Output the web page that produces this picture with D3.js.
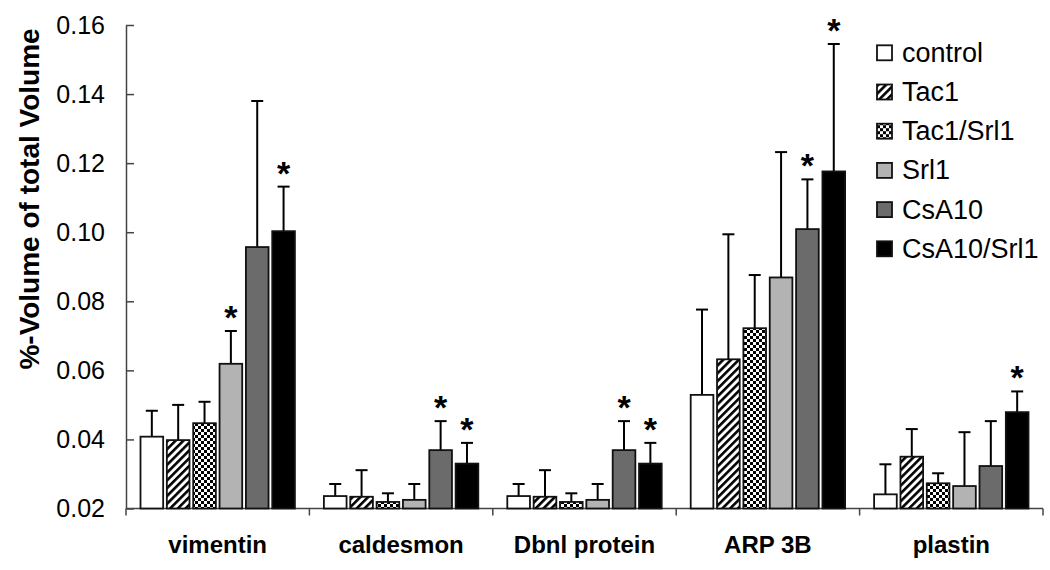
<!DOCTYPE html>
<html>
<head>
<meta charset="utf-8">
<script src="https://cdn.jsdelivr.net/npm/d3@7"></script>
<style>
  html, body { margin: 0; padding: 0; background: #fff; }
  svg { display: block; font-family: Arial, "Liberation Sans", sans-serif; }
</style>
</head>
<body>
<svg id="chart" width="1050" height="570"></svg>
<script>
const categories = ["vimentin", "caldesmon", "Dbnl protein", "ARP 3B", "plastin"];
const seriesNames = ["control", "Tac1", "Tac1/Srl1", "Srl1", "CsA10", "CsA10/Srl1"];

const controlVals   = [0.0408, 0.0236, 0.0236, 0.0529, 0.0241];
const tac1Vals      = [0.0398, 0.0234, 0.0234, 0.0632, 0.0350];
const tac1Srl1Vals  = [0.0447, 0.0219, 0.0219, 0.0722, 0.0273];
const srl1Vals      = [0.0619, 0.0225, 0.0225, 0.0869, 0.0265];
const csa10Vals     = [0.0957, 0.0369, 0.0369, 0.1009, 0.0323];
const csa10Srl1Vals = [0.1003, 0.0330, 0.0330, 0.1176, 0.0479];

const controlErr   = [0.0075, 0.0035, 0.0035, 0.0247, 0.0087];
const tac1Err      = [0.0102, 0.0077, 0.0077, 0.0362, 0.0080];
const tac1Srl1Err  = [0.0062, 0.0025, 0.0025, 0.0154, 0.0029];
const srl1Err      = [0.0095, 0.0046, 0.0046, 0.0363, 0.0156];
const csa10Err     = [0.0423, 0.0084, 0.0084, 0.0144, 0.0130];
const csa10Srl1Err = [0.0129, 0.0060, 0.0060, 0.0369, 0.0060];

// significance markers (*)
const controlSig   = [false, false, false, false, false];
const tac1Sig      = [false, false, false, false, false];
const tac1Srl1Sig  = [false, false, false, false, false];
const srl1Sig      = [true,  false, false, false, false];
const csa10Sig     = [false, true,  true,  true,  false];
const csa10Srl1Sig = [true,  true,  true,  true,  true];

const yTicks = [0.02, 0.04, 0.06, 0.08, 0.10, 0.12, 0.14, 0.16];
const yLabel = "%-Volume of total Volume";

const valueTable = [controlVals, tac1Vals, tac1Srl1Vals, srl1Vals, csa10Vals, csa10Srl1Vals];
const errTable = [controlErr, tac1Err, tac1Srl1Err, srl1Err, csa10Err, csa10Srl1Err];
const sigTable = [controlSig, tac1Sig, tac1Srl1Sig, srl1Sig, csa10Sig, csa10Srl1Sig];

const fills = ["#ffffff", "url(#stripes)", "url(#checks)", "#b3b3b3", "#6b6b6b", "#000000"];

const svg = d3.select("#chart");

// patterns
const defs = svg.append("defs");
const stripes = defs.append("pattern")
  .attr("id", "stripes").attr("patternUnits", "userSpaceOnUse")
  .attr("width", 5.5).attr("height", 5.5)
  .attr("patternTransform", "rotate(45)");
stripes.append("rect").attr("width", 5.5).attr("height", 5.5).attr("fill", "#fff");
stripes.append("rect").attr("x", 0).attr("y", 0).attr("width", 2.6).attr("height", 5.5).attr("fill", "#000");

const checks = defs.append("pattern")
  .attr("id", "checks").attr("patternUnits", "userSpaceOnUse")
  .attr("width", 6).attr("height", 6);
checks.append("rect").attr("width", 6).attr("height", 6).attr("fill", "#fff");
checks.append("rect").attr("x", 0).attr("y", 0).attr("width", 3).attr("height", 3).attr("fill", "#000");
checks.append("rect").attr("x", 3).attr("y", 3).attr("width", 3).attr("height", 3).attr("fill", "#000");

const plotLeft = 126, plotRight = 1043, plotTop = 25, plotBottom = 508.5;

const y = d3.scaleLinear().domain([0.02, 0.16]).range([plotBottom, plotTop]);
const x0 = d3.scaleBand().domain(categories).range([plotLeft, plotRight]).paddingInner(0).paddingOuter(0);
const x1 = d3.scaleBand().domain(seriesNames).range([14.5, x0.bandwidth() - 14.5]).paddingInner(0.14).paddingOuter(0);

// Y axis
const yAxis = d3.axisLeft(y).tickValues(yTicks).tickFormat(d3.format(".2f")).tickSizeInner(-8).tickSizeOuter(0).tickPadding(21);
const gy = svg.append("g").attr("transform", `translate(${plotLeft},0)`).call(yAxis);
gy.select(".domain").attr("stroke", "#444").attr("stroke-width", 1.5);
gy.selectAll(".tick line").attr("stroke", "#444").attr("stroke-width", 1.5);
gy.selectAll(".tick text").attr("font-size", 25).attr("fill", "#000")
  .attr("font-family", "Arial, 'Liberation Sans', sans-serif");

// X axis: boundary ticks
svg.append("line").attr("x1", plotLeft).attr("x2", plotRight).attr("y1", plotBottom).attr("y2", plotBottom)
  .attr("stroke", "#444").attr("stroke-width", 1.5);
const boundaries = categories.map(c => x0(c)).concat([x0(categories[categories.length - 1]) + x0.bandwidth()]);
svg.append("g").selectAll("line").data(boundaries).join("line")
  .attr("x1", d => d).attr("x2", d => d).attr("y1", plotBottom).attr("y2", plotBottom + 7)
  .attr("stroke", "#444").attr("stroke-width", 1.5);

svg.append("g").selectAll("text").data(categories).join("text")
  .attr("x", d => x0(d) + x0.bandwidth() / 2)
  .attr("y", 553)
  .attr("text-anchor", "middle")
  .attr("font-size", 24).attr("font-weight", "bold").attr("fill", "#000")
  .text(d => d);

// Y label
svg.append("text")
  .attr("transform", `translate(39,199) rotate(-90)`)
  .attr("text-anchor", "middle")
  .attr("font-size", 28).attr("font-weight", "bold").attr("fill", "#000")
  .text(yLabel);

// bars
const rows = [];
categories.forEach((c, ci) => {
  seriesNames.forEach((s, si) => {
    rows.push({ c, s, si, v: valueTable[si][ci], e: errTable[si][ci], sig: sigTable[si][ci] });
  });
});

const g = svg.append("g");
const eb = g.append("g");
eb.selectAll("line.stem").data(rows).join("line")
  .attr("class", "stem")
  .attr("x1", d => x0(d.c) + x1(d.s) + x1.bandwidth() / 2)
  .attr("x2", d => x0(d.c) + x1(d.s) + x1.bandwidth() / 2)
  .attr("y1", d => y(d.v))
  .attr("y2", d => y(d.v + d.e))
  .attr("stroke", "#000").attr("stroke-width", 2);
eb.selectAll("line.cap").data(rows).join("line")
  .attr("class", "cap")
  .attr("x1", d => x0(d.c) + x1(d.s) + x1.bandwidth() / 2 - 6)
  .attr("x2", d => x0(d.c) + x1(d.s) + x1.bandwidth() / 2 + 6)
  .attr("y1", d => y(d.v + d.e))
  .attr("y2", d => y(d.v + d.e))
  .attr("stroke", "#000").attr("stroke-width", 2);

g.selectAll("rect.bar").data(rows).join("rect")
  .attr("class", "bar")
  .attr("x", d => x0(d.c) + x1(d.s))
  .attr("width", x1.bandwidth())
  .attr("y", d => y(d.v))
  .attr("height", d => y(0.02) - y(d.v))
  .attr("fill", d => fills[d.si])
  .attr("stroke", "#111").attr("stroke-width", 1.8);

// stars
g.selectAll("text.star").data(rows.filter(d => d.sig)).join("text")
  .attr("class", "star")
  .attr("x", d => x0(d.c) + x1(d.s) + x1.bandwidth() / 2)
  .attr("y", d => y(d.v + d.e) - 2)
  .attr("text-anchor", "middle")
  .attr("font-size", 34).attr("font-weight", "bold").attr("fill", "#000")
  .text("*");

// legend
const lg = svg.append("g").attr("transform", "translate(877,0)");
const lrow = lg.selectAll("g").data(seriesNames).join("g")
  .attr("transform", (d, i) => `translate(0,${52.8 + i * 39.2})`);
lrow.append("rect")
  .attr("x", 0).attr("y", -7.5).attr("width", 15).attr("height", 15)
  .attr("fill", (d, i) => fills[i])
  .attr("stroke", "#111").attr("stroke-width", 1.8);
lrow.append("text")
  .attr("x", 25).attr("y", 9)
  .attr("font-size", 27).attr("fill", "#000")
  .text(d => d);
</script>
</body>
</html>
